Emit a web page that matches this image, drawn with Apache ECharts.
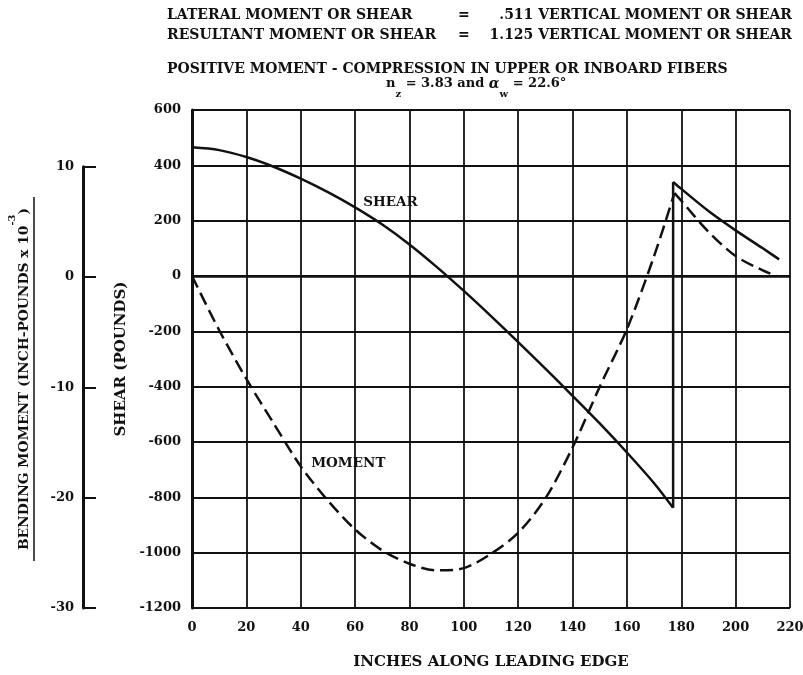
<!DOCTYPE html>
<html>
<head>
<meta charset="utf-8">
<script src="https://cdn.jsdelivr.net/npm/echarts@6/dist/echarts.min.js"></script>
<style>
  html, body { margin: 0; padding: 0; background: #fff; }
  #chart { width: 803px; height: 675px; }
</style>
</head>
<body>
<div id="chart"></div>
<script>
// shear (pounds), inboard of the break near 177 in
const shearInX = [0, 10, 20, 30, 40, 50, 60, 70, 80, 90, 100, 110, 120, 130, 140, 150, 160, 170, 177];
const shearInY = [465, 455, 430, 395, 352, 303, 248, 186, 114, 33, -54, -145, -239, -335, -433, -533, -638, -749, -838];
// shear outboard of the break
const shearOutX = [177, 180, 190, 200, 210, 216];
const shearOutY = [340, 315, 235, 165, 100, 60];
// bending moment (inch-pounds x 10^-3)
const momentInX = [0, 10, 20, 30, 40, 50, 60, 70, 80, 90, 100, 110, 120, 130, 140, 150, 160, 170, 177.5];
const momentInY = [0, -4.9, -9.3, -13.3, -17.2, -20.3, -22.9, -24.8, -26.0, -26.6, -26.4, -25.1, -23.2, -20.1, -15.5, -10.0, -4.8, 1.8, 7.5];
const momentOutX = [177.5, 180, 190, 200, 210, 215];
const momentOutY = [7.5, 6.8, 4.0, 1.8, 0.5, 0];

// axis ranges [min, max, step]
const xRange = [0, 220, 20];
const shearRange = [-1200, 600, 200];
const momentRange = [-30, 10, 10];
const shearPerMoment = 40; // 10 on the moment scale lines up with 400 lb

const INK = '#111';
const SERIF = '"DejaVu Serif", "Liberation Serif", serif';

function pairs(xs, ys) {
  return xs.map((x, i) => [x, ys[i]]);
}

const chart = echarts.init(document.getElementById('chart'));

const tickLabel = { color: INK, fontFamily: SERIF, fontWeight: 'bold', fontSize: 13, formatter: v => String(v) };
const axisName = { color: INK, fontFamily: SERIF, fontWeight: 'bold', fontSize: 15 };
const titleText = { fill: INK, font: 'bold 14px ' + SERIF };
const curveLabel = { show: true, position: 'inside', color: INK, fontFamily: SERIF, fontWeight: 'bold', fontSize: 13.5 };

const option = {
  backgroundColor: '#fff',
  animation: false,
  grid: [
    { left: 192, right: 13, top: 110, bottom: 67, outerBoundsMode: 'none' },
    { left: 83, width: 20, top: 166.7, bottom: 67, outerBoundsMode: 'none' }
  ],
  xAxis: [
    {
      gridIndex: 0,
      type: 'value',
      min: xRange[0],
      max: xRange[1],
      interval: xRange[2],
      name: 'INCHES ALONG LEADING EDGE',
      nameLocation: 'middle',
      nameGap: 47,
      nameTextStyle: axisName,
      axisLine: { show: true, lineStyle: { color: INK, width: 2 } },
      axisTick: { show: false },
      axisLabel: Object.assign({ margin: 13 }, tickLabel),
      splitLine: { show: true, lineStyle: { color: INK, width: 1.8 } }
    },
    { gridIndex: 1, type: 'value', show: false, min: 0, max: 1 }
  ],
  yAxis: [
    {
      gridIndex: 0,
      type: 'value',
      min: shearRange[0],
      max: shearRange[1],
      interval: shearRange[2],
      name: 'SHEAR (POUNDS)',
      nameLocation: 'middle',
      nameRotate: 90,
      nameGap: 60,
      nameTextStyle: axisName,
      axisLine: { show: true, lineStyle: { color: INK, width: 3 } },
      axisTick: { show: false },
      axisLabel: Object.assign({ margin: 11 }, tickLabel),
      splitLine: { show: true, lineStyle: { color: INK, width: 1.8 } }
    },
    {
      // hidden moment scale sharing the plot with shear
      gridIndex: 0,
      type: 'value',
      show: false,
      min: shearRange[0] / shearPerMoment,
      max: shearRange[1] / shearPerMoment
    },
    {
      gridIndex: 1,
      type: 'value',
      position: 'left',
      min: momentRange[0],
      max: momentRange[1],
      interval: momentRange[2],
      axisLine: { show: true, lineStyle: { color: INK, width: 3 } },
      axisTick: { show: true, inside: true, length: 13, lineStyle: { color: INK, width: 2 } },
      axisLabel: Object.assign({ margin: 9 }, tickLabel),
      splitLine: { show: false }
    }
  ],
  series: [
    {
      name: 'shear',
      type: 'line',
      xAxisIndex: 0,
      yAxisIndex: 0,
      data: pairs(shearInX, shearInY),
      smooth: 0.3,
      symbol: 'none',
      lineStyle: { color: INK, width: 2.5 },
      markLine: {
        silent: true,
        symbol: 'none',
        label: { show: false },
        lineStyle: { color: INK, width: 2.6, type: 'solid' },
        data: [{ yAxis: 0 }]
      },
      markPoint: {
        symbol: 'circle',
        symbolSize: 1,
        itemStyle: { color: 'rgba(0,0,0,0)' },
        label: Object.assign({ formatter: 'SHEAR' }, curveLabel),
        data: [{ coord: [73, 264] }]
      }
    },
    {
      name: 'shear break',
      type: 'line',
      xAxisIndex: 0,
      yAxisIndex: 0,
      data: [
        [shearInX[shearInX.length - 1], shearInY[shearInY.length - 1]],
        [shearOutX[0], shearOutY[0]]
      ],
      symbol: 'none',
      lineStyle: { color: INK, width: 2.5 }
    },
    {
      name: 'shear outboard',
      type: 'line',
      xAxisIndex: 0,
      yAxisIndex: 0,
      data: pairs(shearOutX, shearOutY),
      smooth: 0.3,
      symbol: 'none',
      lineStyle: { color: INK, width: 2.5 }
    },
    {
      name: 'moment',
      type: 'line',
      xAxisIndex: 0,
      yAxisIndex: 1,
      data: pairs(momentInX, momentInY),
      smooth: 0.3,
      symbol: 'none',
      lineStyle: { color: INK, width: 2.5, type: [13, 6] },
      markPoint: {
        symbol: 'circle',
        symbolSize: 1,
        itemStyle: { color: 'rgba(0,0,0,0)' },
        label: Object.assign({ formatter: 'MOMENT' }, curveLabel),
        data: [{ coord: [57.5, -16.9] }]
      }
    },
    {
      name: 'moment outboard',
      type: 'line',
      xAxisIndex: 0,
      yAxisIndex: 1,
      data: pairs(momentOutX, momentOutY),
      smooth: 0.3,
      symbol: 'none',
      lineStyle: { color: INK, width: 2.5, type: [13, 6] }
    }
  ],
  graphic: [
    { type: 'text', left: 167, top: 8, style: Object.assign({ text: 'LATERAL MOMENT OR SHEAR' }, titleText) },
    { type: 'text', left: 458, top: 8, style: Object.assign({ text: '=' }, titleText) },
    { type: 'text', right: 11, top: 8, style: Object.assign({ text: '.511 VERTICAL MOMENT OR SHEAR' }, titleText) },
    { type: 'text', left: 167, top: 28, style: Object.assign({ text: 'RESULTANT MOMENT OR SHEAR' }, titleText) },
    { type: 'text', left: 458, top: 28, style: Object.assign({ text: '=' }, titleText) },
    { type: 'text', right: 11, top: 28, style: Object.assign({ text: '1.125 VERTICAL MOMENT OR SHEAR' }, titleText) },
    { type: 'text', left: 167, top: 62, style: Object.assign({ text: 'POSITIVE MOMENT - COMPRESSION IN UPPER OR INBOARD FIBERS' }, titleText) },
    {
      type: 'text',
      left: 386,
      top: 77,
      style: {
        text: '{m|n}{s|z}{m| = 3.83 and }{g|α}{s|w}{m| = 22.6°}',
        fill: INK,
        rich: {
          m: { font: 'bold 13px ' + SERIF, fill: INK, lineHeight: 22, verticalAlign: 'top' },
          g: { font: 'italic bold 14px ' + SERIF, fill: INK, lineHeight: 22, verticalAlign: 'top' },
          s: { font: 'bold 10px ' + SERIF, fill: INK, lineHeight: 22, verticalAlign: 'bottom' }
        }
      }
    },
    {
      type: 'text',
      x: 19,
      y: 379,
      rotation: Math.PI / 2,
      style: {
        text: '{m|BENDING MOMENT (INCH-POUNDS x 10}{p|-3}{m|)}',
        align: 'center',
        verticalAlign: 'middle',
        fill: INK,
        rich: {
          m: { font: 'bold 13.8px ' + SERIF, fill: INK, lineHeight: 24, verticalAlign: 'bottom' },
          p: { font: 'bold 10px ' + SERIF, fill: INK, lineHeight: 24, verticalAlign: 'top' }
        }
      }
    },
    {
      type: 'line',
      shape: { x1: 34, y1: 561, x2: 34, y2: 197 },
      style: { stroke: INK, lineWidth: 1.5 }
    }
  ]
};

chart.setOption(option);
</script>
</body>
</html>
